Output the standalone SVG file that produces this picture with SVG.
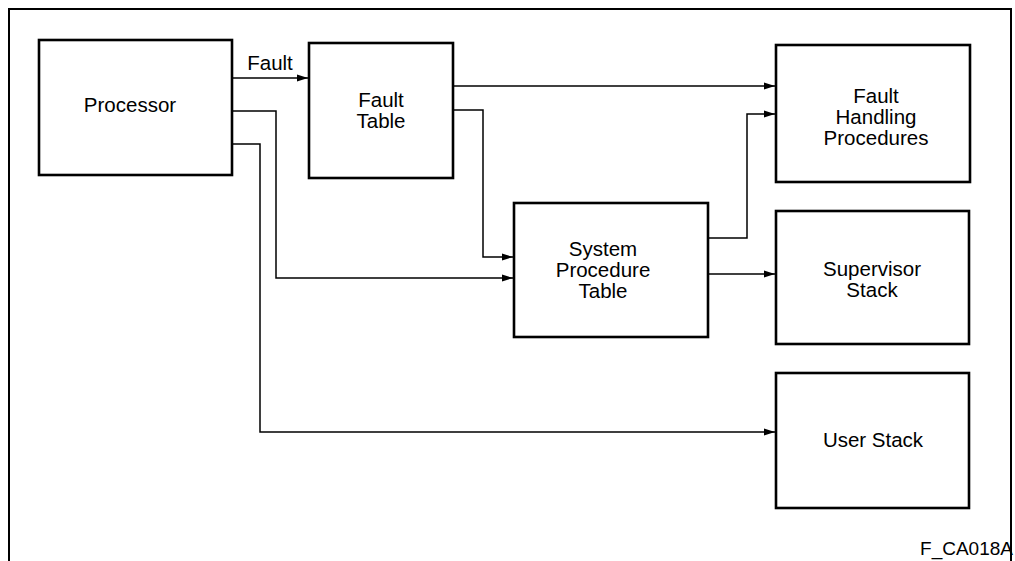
<svg xmlns="http://www.w3.org/2000/svg" width="1015" height="561" viewBox="0 0 1015 561">
<style>
.box{fill:#fff;stroke:#000;stroke-width:2.6}
.ln{fill:none;stroke:#000;stroke-width:1.5}
.t{font-family:"Liberation Sans",Arial,sans-serif;font-size:20.5px;fill:#000;text-anchor:middle}
</style>
<defs>
<marker id="ah" markerUnits="userSpaceOnUse" markerWidth="12" markerHeight="10" refX="11" refY="4" orient="auto">
<path d="M0,0.5 L11,4 L0,7.5 z" fill="#000"/>
</marker>
</defs>
<rect width="1015" height="561" fill="#fff"/>
<path d="M9,561 V9 H1011 V561" fill="none" stroke="#000" stroke-width="2"/>
<g id="connectors">
<path class="ln" d="M232,78 H308" marker-end="url(#ah)"/>
<path class="ln" d="M232,111 H276 V278 H513" marker-end="url(#ah)"/>
<path class="ln" d="M232,144 H260 V432 H775" marker-end="url(#ah)"/>
<path class="ln" d="M453,86 H775" marker-end="url(#ah)"/>
<path class="ln" d="M453,110 H483 V257 H513" marker-end="url(#ah)"/>
<path class="ln" d="M708,238 H747 V114 H775" marker-end="url(#ah)"/>
<path class="ln" d="M708,274 H775" marker-end="url(#ah)"/>
<text class="t" x="270" y="70">Fault</text>
</g>
<g id="processor">
<rect class="box" x="39" y="40" width="193" height="135"/>
<text class="t" x="130" y="112">Processor</text>
</g>
<g id="fault-table">
<rect class="box" x="309" y="43" width="144" height="135"/>
<text class="t" x="381" y="107">Fault</text>
<text class="t" x="381" y="128">Table</text>
</g>
<g id="system-procedure-table">
<rect class="box" x="514" y="203" width="194" height="134"/>
<text class="t" x="603" y="256">System</text>
<text class="t" x="603" y="277">Procedure</text>
<text class="t" x="603" y="298">Table</text>
</g>
<g id="fault-handling-procedures">
<rect class="box" x="776" y="45" width="194" height="137"/>
<text class="t" x="876" y="103">Fault</text>
<text class="t" x="876" y="124">Handling</text>
<text class="t" x="876" y="145">Procedures</text>
</g>
<g id="supervisor-stack">
<rect class="box" x="776" y="211" width="193" height="133"/>
<text class="t" x="872" y="276">Supervisor</text>
<text class="t" x="872" y="297">Stack</text>
</g>
<g id="user-stack">
<rect class="box" x="776" y="373" width="193" height="135"/>
<text class="t" x="873" y="447">User Stack</text>
</g>
<text class="t" x="1013" y="555" style="text-anchor:end;font-size:19px">F_CA018A</text>
</svg>
